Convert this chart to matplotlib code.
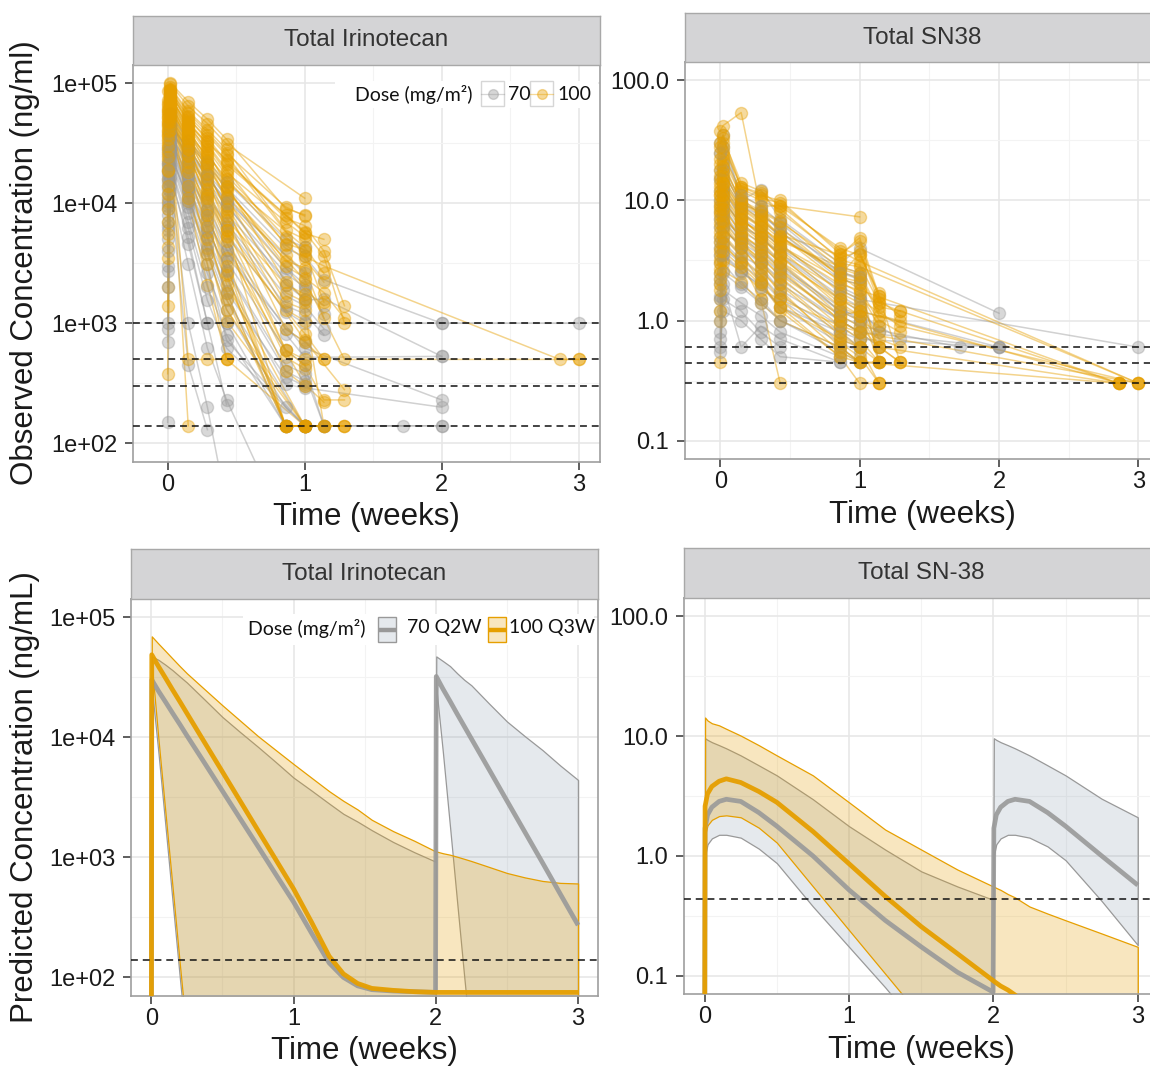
import itertools
import matplotlib
matplotlib.use("Agg")
import matplotlib.pyplot as plt
from matplotlib.patches import Rectangle
from matplotlib.lines import Line2D

plt.rcParams['font.family'] = ['Liberation Sans', 'DejaVu Sans']

N = None
# observed sampling times (weeks)
obs_t = [0.0, 0.02, 0.15, 0.29, 0.43, 0.86, 1.0, 1.14, 1.29, 1.72, 2.0, 2.86, 3.0]

# observed total irinotecan (ng/ml), one row per subject
iri_70 = [
    [25000, 50000, 31000, 21000, 13500, 4200, 3600, 2300, N, N, 1000, N, 1000],
    [20000, 41000, 23000, 14500, 8200, N, 1550, 1600, N, N, 530, N, N],
    [15000, 36000, 19000, 10500, 5600, 1250, 1000, N, N, N, 1000, N, N],
    [12000, 31000, 14500, 7200, 3600, N, 620, N, N, N, 230, N, N],
    [6000, 28000, 12500, 5200, 2300, 310, 290, N, N, N, 200, N, N],
    [2700, 26000, 10500, 4100, 1550, N, 140, N, N, N, 140, N, N],
    [9000, 23000, 8300, 2600, 1000, 140, 140, N, N, N, 140, N, N],
    [1000, 20000, 6200, 1550, 620, N, 140, N, N, 140, N, N, N],
    [700, 18000, 4600, 1000, 1000, N, N, N, N, N, N, N, N],
    [900, 15500, 1000, 200, 30, N, N, N, N, N, N, N, N],
    [150, 12500, 450, 130, N, N, N, N, N, N, N, N, N],
    [18000, 39000, 26000, 16500, 10500, N, 2600, N, N, N, N, N, N],
    [10000, 27000, 11500, 5200, 1850, 360, 300, N, N, N, N, N, N],
    [5000, 16500, 5200, 1000, 210, N, N, N, N, N, N, N, N],
    [8000, 24500, 9200, 3100, 720, N, 140, N, N, N, N, N, N],
    [3000, 14000, 3100, 620, 230, 20, N, N, N, N, N, N, N],
    [22000, 45000, 28000, 17500, 11500, 2900, 2100, 1200, N, N, N, N, N],
    [14000, 33000, 16500, 8700, 4100, 820, 520, N, N, N, 530, N, N],
    [17000, 37000, 21000, 12000, 6800, 1700, 1400, 900, N, N, N, N, N],
    [11000, 29000, 13000, 6000, 2800, 450, 380, 140, N, N, N, N, N],
    [28000, 55000, 33000, 22000, 15000, 5000, 4300, N, N, N, N, N, N],
    [19000, 43000, 24000, 15000, 9500, 2600, 2000, N, N, N, N, N, N],
    [16000, 38000, 20000, 11500, 6500, 1400, 1200, 800, N, N, N, N, N],
    [13000, 34000, 17000, 9000, 4600, 900, 700, N, N, N, N, N, N],
    [7000, 30000, 13500, 6300, 2700, 400, 330, N, N, N, N, N, N],
    [4000, 25000, 11000, 4500, 1800, 140, 140, N, N, N, N, N, N],
    [21000, 46000, 27000, 17000, 10000, 2100, 1600, N, N, N, N, N, N],
    [9500, 32000, 15000, 7800, 3300, 600, 450, 140, N, N, N, N, N],
    [2000, 21000, 7000, 2000, 800, 140, N, N, N, N, N, N, N],
    [6500, 27000, 10000, 3800, 1300, 200, 140, N, N, N, N, N, N],
]
iri_100 = [
    [72000, 98000, 64000, 46000, 31000, N, 11000, N, N, N, N, N, N],
    [56000, 90000, 56000, 39000, 26000, 9300, 7800, N, N, N, N, N, N],
    [46000, 86000, 52000, 33000, 21000, N, 5800, 3600, 1000, N, N, N, N],
    [62000, 82000, 47000, 30000, 18000, 7000, 5300, N, N, N, N, N, N],
    [36000, 77000, 43000, 26000, 15000, N, 4300, 2600, N, N, N, N, N],
    [51000, 73000, 41000, 23000, 12500, 3700, 2700, N, N, N, N, N, N],
    [31000, 71000, 39000, 21000, 10500, N, 1900, 1400, N, N, N, N, N],
    [41000, 66000, 36000, 19000, 8500, 1300, 1050, N, N, N, N, N, N],
    [26000, 63000, 31000, 15500, 6300, N, 720, N, 280, N, N, N, N],
    [45000, 61000, 29000, 12500, 5200, 520, 420, N, N, N, N, N, N],
    [21000, 59000, 26000, 10500, 4100, N, 310, 220, N, N, N, N, N],
    [38000, 56000, 23000, 8300, 2600, 140, 140, N, N, N, N, N, N],
    [16000, 53000, 21000, 7200, 2100, N, 140, 140, 140, N, N, N, N],
    [29000, 51000, 19000, 5700, 1600, 140, 140, N, N, N, N, N, N],
    [10500, 49000, 16000, 4200, 1050, N, 140, N, N, N, N, N, N],
    [4300, 46000, 12500, 3100, 500, N, 140, N, N, N, N, N, N],
    [3500, 43000, 10500, 2100, 500, N, N, N, N, N, N, N, N],
    [1400, 40000, 500, 500, 500, N, N, N, N, N, N, N, N],
    [380, 37000, 140, N, N, N, N, N, N, N, N, N, N],
    [66000, 87000, 53000, 37000, 25000, N, 3600, 3000, N, N, N, 500, 500],
    [43000, 69000, 37000, 25000, 16000, 4600, 4100, N, N, N, N, N, N],
    [33000, 64000, 33000, 20000, 11500, N, 2300, N, 500, N, N, N, 500],
    [23000, 58000, 27000, 14500, 7300, 2100, 1750, N, N, N, N, N, N],
    [18500, 54000, 24500, 11500, 5300, N, 820, 500, N, N, N, N, N],
    [60000, 80000, 50000, 35000, 22000, 8000, 5600, 5000, N, N, N, N, N],
    [27000, 60000, 34000, 17000, 9500, 1500, 1300, 140, N, N, N, N, N],
    [14000, 52000, 22000, 9000, 3500, 140, 140, 140, N, N, N, N, N],
    [2000, 47000, 28000, 12000, 6000, 600, 450, 230, 230, N, N, N, N],
    [48000, 75000, 44000, 28000, 17000, 5200, 4000, 1500, N, N, N, N, N],
    [9000, 50000, 18000, 6500, 2500, 140, 140, N, 140, N, N, N, N],
    [85000, 100000, 70000, 50000, 34000, 9000, 8000, N, N, N, N, N, N],
    [52000, 92000, 58000, 41000, 28000, 6000, 5000, N, N, N, N, N, N],
    [40000, 88000, 48000, 31000, 19000, 4500, 3400, 2200, N, N, N, N, N],
    [68000, 84000, 46000, 27000, 14000, 2200, 1600, N, N, N, N, N, N],
    [58000, 79000, 40000, 24000, 13500, 3000, 2400, 1800, 1100, N, N, N, N],
    [34000, 74000, 38000, 22000, 11000, 1800, 1500, N, N, N, N, N, N],
    [47000, 70000, 33000, 17500, 9000, 900, 700, 500, N, N, N, N, N],
    [24000, 67000, 30000, 16000, 7800, 600, 500, N, N, N, N, N, N],
    [30000, 62000, 28000, 13000, 6000, 140, 140, 140, N, N, N, N, N],
    [19000, 57000, 25000, 11000, 4800, 400, 300, N, N, N, N, N, N],
    [12000, 55000, 20000, 8000, 3000, 140, 140, N, 140, N, N, N, N],
    [7000, 44000, 14000, 5000, 1800, 140, 140, N, N, N, N, N, N],
    [5500, 41000, 11000, 3800, 1300, N, 140, 140, N, N, N, N, N],
    [54000, 76000, 45000, 32000, 23000, 7500, 6500, 4000, 1400, N, N, N, N],
    [37000, 68000, 35000, 21000, 13000, 3300, 2900, 1100, N, N, N, N, N],
]

# observed total SN38 (ng/ml)
sn38_70 = [
    [30, 35, 10, 12.3, 7, 3, 4.0, N, N, N, 1.15, N, N],
    [12, 15, 9, 7, 5, 2.5, 2.2, N, N, N, N, N, N],
    [8, 11, 6, 5, 3.5, 1.5, 1.2, N, N, N, 0.6, N, N],
    [5, 8, 5, 4, 2.8, 1.3, 1.0, N, N, N, N, N, N],
    [3, 6, 4, 3, 2, 1.0, 0.8, N, N, N, 0.6, N, N],
    [2, 4, 3, 2.2, 1.5, 0.7, 0.6, N, N, N, N, N, N],
    [1.2, 3, 2, 1.5, 1.0, 0.6, 0.45, N, N, N, N, N, N],
    [0.8, 2, 0.6, 0.9, 0.7, 0.45, N, N, N, N, N, N, N],
    [0.6, 1.5, 1.2, 0.8, 0.6, N, N, N, N, N, N, N, N],
    [10, 13, 8, 6, 4, 1.8, 1.5, N, N, N, N, N, 0.6],
    [6, 9, 5.5, 4.5, 3, 1.2, 1.1, 0.9, 0.7, N, N, N, N],
    [4, 7, 4.5, 3.5, 2.5, 1.1, 0.9, N, N, 0.6, N, N, N],
    [2.5, 5, 3.5, 2.8, 1.8, 0.9, 0.7, N, N, N, 0.6, N, N],
    [1.5, 3.5, 2.5, 2, 1.3, 0.8, 0.6, N, N, N, N, N, N],
    [18, 20, 9.5, 8, 5.5, 2.2, 2.0, 0.45, N, N, N, N, N],
    [0.55, 1.2, 1.0, 0.7, 0.5, 0.45, N, N, N, N, N, N, N],
    [15, 18, 9.0, 7.5, 5.8, 2.8, 2.5, N, N, N, N, N, N],
    [9, 12, 7.2, 5.6, 4.2, 1.9, 1.6, N, N, N, N, N, N],
    [7, 10, 6.3, 4.9, 3.6, 1.6, 1.3, 0.8, N, N, N, N, N],
    [4.5, 7.5, 4.8, 3.8, 2.7, 1.2, 1.0, N, N, N, N, N, N],
    [3.5, 6.0, 4.1, 3.1, 2.2, 1.0, 0.8, 0.6, N, N, N, N, N],
    [2.2, 4.5, 3.2, 2.4, 1.6, 0.8, 0.7, N, N, N, N, N, N],
    [1.6, 3.6, 2.6, 1.9, 1.3, 0.65, 0.55, N, N, N, N, N, N],
    [1.0, 2.5, 1.9, 1.4, 1.0, 0.55, 0.45, N, N, N, N, N, N],
    [0.7, 1.8, 1.4, 1.1, 0.8, 0.5, N, N, N, N, N, N, N],
    [25, 28, 11, 9, 6.5, 2.5, 2.3, N, N, N, N, N, N],
]
sn38_100 = [
    [38, 42, 54, 8.5, 5.5, N, 1.8, N, N, N, N, 0.3, N],
    [30, 35, 12.5, 10.5, 9.5, 3.8, 3.1, N, N, N, N, N, 0.3],
    [15, 22, 11, 9, 9, N, 7.3, N, N, N, N, N, N],
    [12, 18, 9, 7, 5.2, 3.5, 4.9, 1.6, N, N, N, N, N],
    [10, 15, 8, 6.2, 4.2, 2.2, 2.0, 1.3, 1.2, N, N, 0.3, N],
    [8, 12.5, 7, 5.2, 3.6, 1.8, 1.5, N, 0.9, N, N, N, 0.3],
    [6, 10, 6.2, 4.6, 3.1, 1.2, 1.0, 0.8, N, N, N, N, N],
    [5, 9, 5.2, 3.6, 2.6, 1.0, 0.8, N, 0.45, N, N, N, N],
    [4, 8, 4.6, 3.1, 2.1, 0.8, 0.6, 0.45, N, N, N, N, N],
    [3, 6.5, 4.1, 2.6, 1.8, 0.6, 0.45, N, N, N, N, 0.3, N],
    [2, 5.2, 3.6, 2.1, 1.2, 0.5, 0.3, 0.3, N, N, N, N, N],
    [1.5, 4.2, 3.1, 1.5, 0.3, N, N, N, N, N, N, N, N],
    [1, 3.2, 2.6, 1.8, 1.5, 0.9, 0.8, N, N, N, N, N, 0.3],
    [0.45, 2.6, 2.1, 1.4, 1.0, 0.6, 0.45, 0.45, N, N, N, N, N],
    [25, 30, 13, 11, 10, 3.6, 4.6, 1.5, 1.1, N, N, N, N],
    [18, 21, 9.5, 8, 6.6, 3.0, 2.8, N, N, N, N, N, 0.3],
    [7, 14, 7.6, 6, 4.6, 2.8, 2.5, 1.2, N, N, N, N, N],
    [3.5, 7, 5.1, 4.1, 3.1, 1.5, 1.3, 0.6, 0.45, N, N, N, N],
    [2.5, 5.6, 4.3, 3.3, 2.4, 1.1, 1.2, N, N, N, N, 0.3, N],
    [9, 11, 6.6, 5.6, 4.1, 2.0, 1.8, 1.0, 0.8, N, N, N, N],
    [20, 26, 10.5, 7.5, 5.0, 2.4, 3.6, 1.6, 0.45, N, N, N, N],
    [14, 16, 8.5, 6.5, 4.8, 2.6, 2.2, 0.45, N, N, N, N, N],
    [1.2, 3.8, 2.8, 2.0, 1.3, 0.7, 0.6, 0.3, N, N, N, N, N],
    [11, 13.5, 7.2, 5.0, 3.4, 1.4, 1.1, 0.6, N, N, N, 0.3, N],
    [16, 24, 12, 10, 8.5, 3.2, 2.9, 1.4, N, N, N, N, N],
    [13, 19, 10, 8.2, 6.8, 2.7, 2.4, 1.1, 1.0, N, N, N, N],
    [11, 17, 9.5, 7.6, 6.0, 2.3, 2.1, N, N, N, N, N, N],
    [9.5, 14, 8.6, 6.8, 5.1, 2.1, 1.7, 0.9, N, N, N, N, N],
    [8.5, 12, 7.8, 6.1, 4.4, 1.7, 1.4, 0.7, 0.6, N, N, N, N],
    [7.5, 11, 7.0, 5.3, 3.9, 1.5, 1.2, 0.45, N, N, N, N, N],
    [6.5, 10, 6.4, 4.9, 3.5, 1.3, 1.1, N, N, N, N, N, N],
    [5.5, 9.5, 5.9, 4.3, 3.0, 1.1, 0.9, 0.6, N, N, N, N, N],
    [4.5, 8.5, 5.4, 3.9, 2.7, 1.0, 0.8, N, N, N, N, N, N],
    [3.8, 7.5, 4.9, 3.5, 2.3, 0.9, 0.7, 0.45, N, N, N, N, N],
    [3.2, 6.8, 4.4, 3.0, 2.0, 0.75, 0.6, N, N, N, N, N, N],
    [2.7, 6.0, 4.0, 2.7, 1.7, 0.65, 0.5, 0.3, N, N, N, N, N],
    [2.2, 5.0, 3.4, 2.4, 1.5, 0.55, 0.45, N, N, N, N, N, N],
    [1.8, 4.4, 3.0, 2.1, 1.3, 0.5, 0.45, N, N, N, N, N, N],
    [28, 33, 14, 12, 9, 4.0, 3.5, 1.7, N, N, N, N, N],
    [22, 28, 13, 11.5, 8, 3.3, 3.8, 1.4, 1.2, N, N, N, N],
]

iri_lloq = [1000, 500, 300, 140]
sn38_lloq = [0.6, 0.44, 0.3]

# predicted irinotecan (ng/mL): median and interval per regimen
pi_t = [0.0, 0.003, 0.05, 0.1, 0.15, 0.2, 0.25, 0.375, 0.5, 0.625, 0.75, 0.875, 1.0,
        1.125, 1.25, 1.35, 1.45, 1.55, 1.7, 1.85, 1.998, 2.003, 2.05, 2.1, 2.15, 2.2,
        2.25, 2.375, 2.5, 2.625, 2.75, 2.875, 3.0]
pi_med_70 = [10, 30000, 24200, 19600, 15800, 12800, 10300, 6070, 3560, 2090, 1230, 720, 424,
             235, 132, 100, 85, 79, 77, 76, 75, 32000, 25200, 19900, 15600, 12300,
             9700, 5360, 2950, 1630, 900, 494, 272]
pi_lo_70 = [10, 26000, 7400, 1780, 420, 100, 25, 10, 10, 10, 10, 10, 10,
            10, 10, 10, 10, 10, 10, 10, 10, 26000, 7400, 1780, 420, 100,
            25, 10, 10, 10, 10, 10, 10]
pi_hi_70 = [10, 47000, 44000, 40000, 36000, 32000, 28500, 20500, 14700, 11000, 8300, 6200, 4600,
            3600, 2800, 2300, 1980, 1680, 1340, 1100, 920, 47000, 43000, 39000, 34000, 30000,
            27000, 19000, 13500, 10200, 7800, 5800, 4400]
pi_med_100 = [10, 48500, 38800, 31000, 24700, 19800, 15800, 9000, 5140, 2930, 1670, 955, 545,
              290, 150, 107, 89, 81, 78, 76, 75, 75, 75, 75, 75, 75,
              75, 75, 75, 75, 75, 75, 75]
pi_lo_100 = [10, 40000, 9600, 2300, 550, 130, 32, 10, 10, 10, 10, 10, 10,
             10, 10, 10, 10, 10, 10, 10, 10, 10, 10, 10, 10, 10,
             10, 10, 10, 10, 10, 10, 10]
pi_hi_100 = [10, 69000, 60000, 52000, 45000, 39000, 34000, 25000, 18400, 13700, 10200, 7800, 5970,
             4600, 3550, 2950, 2500, 2050, 1650, 1370, 1120, 1118, 1080, 1050, 1010, 970,
             930, 830, 740, 680, 635, 612, 605]

# predicted SN-38 (ng/mL)
ps_t = [0.0, 0.003, 0.02, 0.05, 0.1, 0.15, 0.25, 0.375, 0.5, 0.75, 1.0, 1.25, 1.5,
        1.75, 1.998, 2.003, 2.02, 2.05, 2.1, 2.15, 2.25, 2.375, 2.5, 2.75, 3.0]
ps_med_70 = [0.01, 1.7, 2.2, 2.55, 2.85, 2.97, 2.85, 2.3, 1.77, 1.0, 0.52, 0.29, 0.174,
             0.107, 0.073, 1.7, 2.2, 2.55, 2.85, 2.97, 2.85, 2.3, 1.77, 1.0, 0.57]
ps_lo_70 = [0.01, 1.0, 1.25, 1.4, 1.5, 1.5, 1.42, 1.15, 0.87, 0.378, 0.174, 0.08, 0.035,
            0.015, 0.01, 1.0, 1.25, 1.4, 1.5, 1.5, 1.42, 1.2, 0.92, 0.42, 0.18]
ps_hi_70 = [0.01, 9.6, 9.3, 8.9, 8.4, 7.9, 6.9, 5.7, 4.7, 2.97, 1.77, 1.13, 0.743,
            0.556, 0.43, 9.6, 9.3, 8.9, 8.4, 7.9, 6.9, 5.7, 4.7, 3.0, 2.1]
ps_med_100 = [0.01, 2.6, 3.3, 3.8, 4.2, 4.4, 4.1, 3.45, 2.8, 1.6, 0.86, 0.46, 0.257,
              0.153, 0.091, 0.09, 0.087, 0.082, 0.076, 0.069, 0.056, 0.043, 0.033, 0.02, 0.012]
ps_lo_100 = [0.01, 1.5, 1.8, 2.0, 2.15, 2.18, 2.1, 1.72, 1.29, 0.556, 0.24, 0.104, 0.045,
             0.02, 0.01, 0.01, 0.01, 0.01, 0.01, 0.01, 0.01, 0.01, 0.01, 0.01, 0.01]
ps_hi_100 = [0.01, 14.3, 13.5, 12.8, 12.3, 11.5, 10.1, 8.4, 6.9, 4.7, 2.8, 1.66, 1.13,
             0.77, 0.556, 0.555, 0.54, 0.52, 0.48, 0.45, 0.378, 0.33, 0.29, 0.225, 0.174]

iri_ticks = [1e2, 1e3, 1e4, 1e5]
iri_labels = ['1e+02', '1e+03', '1e+04', '1e+05']
sn_ticks = [0.1, 1, 10, 100]
sn_labels = ['0.1', '1.0', '10.0', '100.0']

C70 = '#999999'
C100 = '#E69F00'
BAND70 = (0.49, 0.57, 0.65, 0.2)
BAND100 = (0.902, 0.624, 0.0, 0.25)

W, H = 1150, 1067
fig = plt.figure(figsize=(W / 100, H / 100), dpi=100)


def box(x0, y0, x1, y1):
    return [x0 / W, 1 - y1 / H, (x1 - x0) / W, (y1 - y0) / H]


def panel(px, strip_px, title, xlim, ylim, ticks, labels):
    ax = fig.add_axes(box(*px))
    ax.set_yscale('log')
    ax.set_xticks([0, 1, 2, 3])
    ax.set_xticks([0.5, 1.5, 2.5], minor=True)
    ax.set_yticks(ticks)
    ax.set_yticklabels(labels)
    ax.set_yticks([t * 10 ** 0.5 for t in ticks[:-1]], minor=True)
    ax.yaxis.set_minor_formatter(plt.NullFormatter())
    ax.set_xlim(*xlim)
    ax.set_ylim(*ylim)
    ax.grid(True, which='major', color='#E6E6E6', lw=1.1, zorder=0)
    ax.grid(True, which='minor', color='#F3F3F3', lw=0.8, zorder=0)
    ax.set_axisbelow(True)
    ax.tick_params(which='major', direction='out', length=5.8, width=1.1,
                   color='#333333', labelsize=17, labelcolor='#1a1a1a')
    ax.tick_params(axis='x', pad=2.5)
    ax.tick_params(axis='y', pad=5.5)
    ax.tick_params(which='minor', length=0)
    for s in ax.spines.values():
        s.set_color('#9E9E9E')
        s.set_linewidth(1.2)
    sa = fig.add_axes(box(*strip_px))
    sa.set_xticks([])
    sa.set_yticks([])
    sa.set_facecolor('#D4D4D6')
    for s in sa.spines.values():
        s.set_color('#A8A8A8')
        s.set_linewidth(1.0)
    sa.text(0.5, 0.5, title, ha='center', va='center', fontsize=17.5,
            color='#333333', transform=sa.transAxes)
    return ax


def spaghetti(ax, rows70, rows100):
    for r70, r100 in itertools.zip_longest(rows70, rows100):
        for row, col in ((r70, C70), (r100, C100)):
            if row is None:
                continue
            tt = [t for t, c in zip(obs_t, row) if c is not None]
            cc = [c for c in row if c is not None]
            ax.plot(tt, cc, '-', color=col, alpha=0.45, lw=1.1, zorder=2)
            ax.plot(tt, cc, 'o', color=col, alpha=0.38, ms=8.7, mew=1.0, zorder=3)


def lloq(ax, levels):
    for v in levels:
        ax.axhline(v, color='#111111', lw=1.1, ls=(0, (4.5, 3.2)), zorder=5)


def bands(ax, t, lo70, hi70, med70, lo100, hi100, med100):
    ax.fill_between(t, lo70, hi70, facecolor=BAND70, edgecolor=C70, lw=0.9, zorder=1.5)
    ax.fill_between(t, lo100, hi100, facecolor=BAND100, edgecolor=C100, lw=0.9, zorder=1.6)
    ax.plot(t, med70, color=C70, lw=3.4, alpha=0.9, zorder=3, solid_capstyle='butt')
    ax.plot(t, med100, color=C100, lw=3.4, alpha=0.95, zorder=3.1, solid_capstyle='butt')


iri_ylim = (10 ** 1.845, 10 ** 5.15)
sn_ylim = (10 ** -1.153, 10 ** 2.153)

ax1 = panel((133, 65, 600, 462), (133, 16, 600, 65), 'Total Irinotecan',
            (-0.253, 3.155), iri_ylim, iri_ticks, iri_labels)
spaghetti(ax1, iri_70, iri_100)
lloq(ax1, iri_lloq)

ax2 = panel((685, 62, 1160, 459), (685, 13, 1160, 62), 'Total SN38',
            (-0.253, 3.155), sn_ylim, sn_ticks, sn_labels)
spaghetti(ax2, sn38_70, sn38_100)
lloq(ax2, sn38_lloq)

ax3 = panel((131, 599, 598, 996), (131, 549, 598, 599), 'Total Irinotecan',
            (-0.143, 3.14), iri_ylim, iri_ticks, iri_labels)
bands(ax3, pi_t, pi_lo_70, pi_hi_70, pi_med_70, pi_lo_100, pi_hi_100, pi_med_100)
lloq(ax3, [140])

ax4 = panel((684, 598, 1158, 994), (684, 548, 1158, 598), 'Total SN-38',
            (-0.143, 3.14), sn_ylim, sn_ticks, sn_labels)
bands(ax4, ps_t, ps_lo_70, ps_hi_70, ps_med_70, ps_lo_100, ps_hi_100, ps_med_100)
lloq(ax4, [0.44])

# axis titles
for x, y in [(366.5, 517), (922, 515), (364.5, 1051), (921, 1050)]:
    fig.text(x / W, 1 - y / H, 'Time (weeks)', ha='center', va='center',
             fontsize=22.5, color='#1a1a1a')
fig.text(25 / W, 1 - 263 / H, 'Observed Concentration (ng/ml)', rotation=90,
         ha='center', va='center', fontsize=22.5, color='#1a1a1a')
fig.text(25 / W, 1 - 797 / H, 'Predicted Concentration (ng/mL)', rotation=90,
         ha='center', va='center', fontsize=22.5, color='#1a1a1a')


# legends, placed in figure pixels
def fx(x):
    return x / W


def fy(y):
    return 1 - y / H


def frect(x0, y0, x1, y1, **kw):
    fig.add_artist(Rectangle((fx(x0), fy(y1)), (x1 - x0) / W, (y1 - y0) / H,
                             transform=fig.transFigure, **kw))


LEG = dict(fontfamily=['Lato', 'DejaVu Sans'], fontsize=14, color='#111111',
           va='center', ha='left')

# top legend
frect(335, 81, 598, 108, facecolor='white', edgecolor='none', zorder=6)
fig.text(fx(355), fy(94.5), 'Dose (mg/m²)', zorder=7, **LEG)
for x0, col, lab in [(481, C70, '70'), (530, C100, '100')]:
    frect(x0, 81, x0 + 23, 106, facecolor='white', edgecolor='#D6D6D6', lw=1.0, zorder=7)
    fig.add_artist(Line2D([fx(x0), fx(x0 + 23)], [fy(93.5), fy(93.5)], color=col,
                          alpha=0.4, lw=0.9, transform=fig.transFigure, zorder=8))
    fig.add_artist(Line2D([fx(x0 + 11.5)], [fy(93.5)], marker='o', ms=7, color=col,
                          alpha=0.4, transform=fig.transFigure, zorder=8))
    fig.text(fx(x0 + 27), fy(94.5), lab, zorder=8, **LEG)

# bottom legend
frect(243, 614, 594, 645, facecolor='white', edgecolor='none', zorder=6)
fig.text(fx(248), fy(628), 'Dose (mg/m²)', zorder=7, **LEG)
for x0, face, col, lab, tx in [(378, BAND70, C70, '70 Q2W', 407),
                               (488, BAND100, C100, '100 Q3W', 509)]:
    frect(x0, 617, x0 + 18, 642, facecolor=face, edgecolor=col, lw=1.0, zorder=7)
    fig.add_artist(Line2D([fx(x0 + 0.5), fx(x0 + 17.5)], [fy(629.5), fy(629.5)], color=col,
                          lw=3.2, transform=fig.transFigure, zorder=8, solid_capstyle='butt'))
    fig.text(fx(tx), fy(628), lab, zorder=8, **LEG)

fig.savefig('out.png', dpi=100)
